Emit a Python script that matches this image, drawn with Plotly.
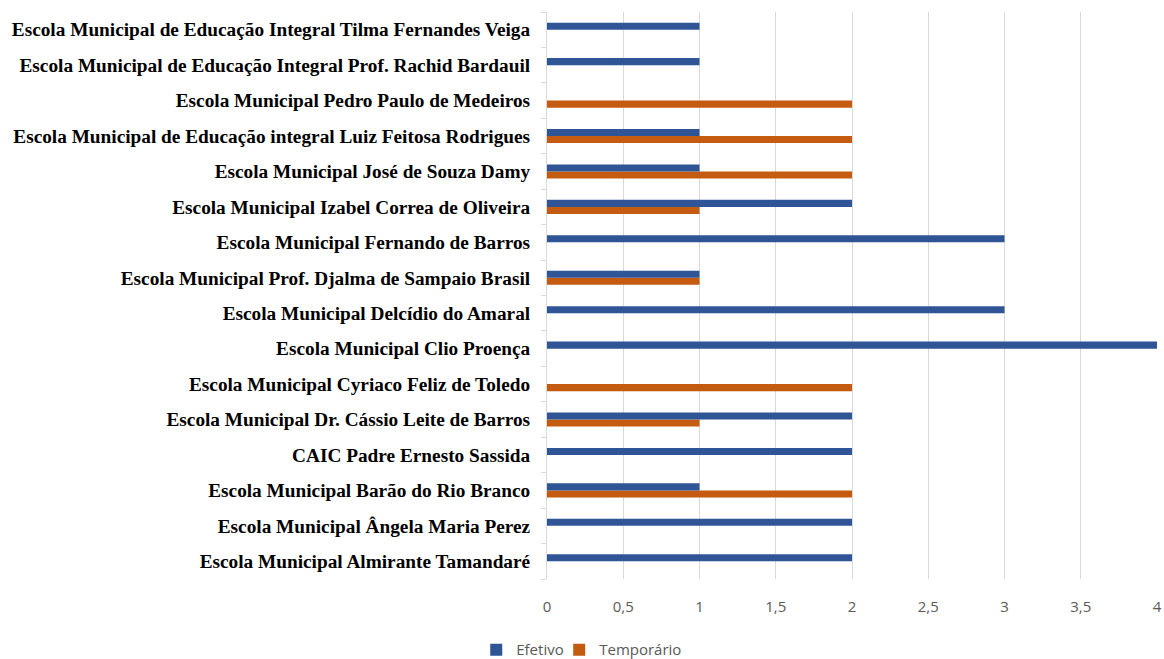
import plotly.graph_objects as go

categories = [
    "Escola Municipal Almirante Tamandaré",
    "Escola Municipal Ângela Maria Perez",
    "Escola Municipal Barão do Rio Branco",
    "CAIC Padre Ernesto Sassida",
    "Escola Municipal Dr. Cássio Leite de Barros",
    "Escola Municipal Cyriaco Feliz de Toledo",
    "Escola Municipal Clio Proença",
    "Escola Municipal Delcídio do Amaral",
    "Escola Municipal Prof. Djalma de Sampaio Brasil",
    "Escola Municipal Fernando de Barros",
    "Escola Municipal Izabel Correa de Oliveira",
    "Escola Municipal José de Souza Damy",
    "Escola Municipal de Educação integral Luiz Feitosa Rodrigues",
    "Escola Municipal Pedro Paulo de Medeiros",
    "Escola Municipal de Educação Integral Prof. Rachid Bardauil",
    "Escola Municipal de Educação Integral Tilma Fernandes Veiga",
]
efetivo = [2, 2, 1, 2, 2, 0, 4, 3, 1, 3, 2, 1, 1, 0, 1, 1]
temporario = [0, 0, 2, 0, 1, 2, 0, 0, 1, 0, 1, 2, 2, 2, 0, 0]
x_ticks = [0, 0.5, 1, 1.5, 2, 2.5, 3, 3.5, 4]
x_tick_labels = ["0", "0,5", "1", "1,5", "2", "2,5", "3", "3,5", "4"]

fig = go.Figure()
fig.add_trace(go.Bar(
    y=categories, x=temporario, name="Temporário", orientation="h",
    marker=dict(color="#C55A11", line=dict(width=0)), legend="legend2",
))
fig.add_trace(go.Bar(
    y=categories, x=efetivo, name="Efetivo", orientation="h",
    marker=dict(color="#2F5597", line=dict(width=0)), legend="legend",
))

sans = "Open Sans, Liberation Sans, sans-serif"
legend_common = dict(
    orientation="h", yref="paper", y=-0.125, yanchor="middle", xanchor="left",
    font=dict(family=sans, size=15, color="#595959"),
    itemwidth=30, bgcolor="rgba(0,0,0,0)",
)

fig.update_layout(
    width=1164, height=659,
    margin=dict(l=547, r=7, t=12, b=80, autoexpand=False),
    plot_bgcolor="white", paper_bgcolor="white",
    barmode="group", bargap=0.6, bargroupgap=0,
    showlegend=True,
    legend=dict(x=-0.116, **legend_common),
    legend2=dict(x=0.020, **legend_common),
    xaxis=dict(
        range=[0, 4], tickvals=x_ticks, ticktext=x_tick_labels,
        showgrid=True, gridcolor="#D9D9D9", gridwidth=1,
        zeroline=False, showline=False,
        tickfont=dict(family=sans, size=15, color="#595959"),
        ticklabelstandoff=17, automargin=False,
    ),
    yaxis=dict(
        type="category", categoryorder="array", categoryarray=categories,
        showline=True, linecolor="#D9D9D9", linewidth=1,
        ticks="outside", tickson="boundaries", ticklen=5, tickcolor="#D9D9D9",
        showgrid=False, automargin=False,
        tickfont=dict(family="Liberation Serif, Times New Roman, serif", size=19.3,
                      color="#000000", weight="bold"),
        ticklabelstandoff=12,
    ),
)

fig.write_html("out.html")
